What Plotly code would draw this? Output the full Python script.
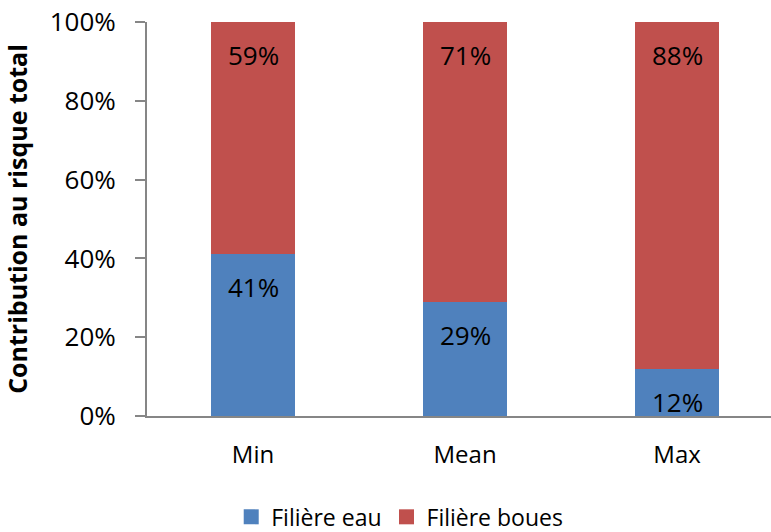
import plotly.graph_objects as go

categories = ["Min", "Mean", "Max"]
eau = [41, 29, 12]
boues = [59, 71, 88]
series_names = ["Filière eau", "Filière boues"]
y_ticks = [0, 20, 40, 60, 80, 100]
y_tick_labels = ["0%", "20%", "40%", "60%", "80%", "100%"]

BLUE = "#4F81BD"
RED = "#C0504D"
AXIS = "#868686"
FONT = "Open Sans"

fig = go.Figure()
for name, vals, color in [(series_names[0], eau, BLUE), (series_names[1], boues, RED)]:
    fig.add_trace(go.Bar(x=categories, y=vals, name=name, showlegend=False,
                         legendgroup=name, marker=dict(color=color, line=dict(width=0))))
    # larger square swatch for the legend entry
    fig.add_trace(go.Scatter(x=[None], y=[None], mode="markers", name=name,
                             legendgroup=name,
                             marker=dict(symbol="square", size=15, color=color)))

# value labels sit just inside the top of each segment
annotations = []
for i, cat in enumerate(categories):
    annotations.append(dict(x=cat, y=eau[i], text=f"{eau[i]}%", showarrow=False,
                            yanchor="middle", yshift=-33,
                            font=dict(family=FONT, size=26, color="black")))
    annotations.append(dict(x=cat, y=eau[i] + boues[i], text=f"{boues[i]}%", showarrow=False,
                            yanchor="middle", yshift=-33,
                            font=dict(family=FONT, size=26, color="black")))

fig.update_layout(
    barmode="stack",
    bargap=0.6,
    width=771, height=532,
    margin=dict(l=147, r=0, t=22, b=116, autoexpand=False),
    paper_bgcolor="white", plot_bgcolor="white",
    font=dict(family=FONT, size=24, color="black"),
    showlegend=True,
    legend=dict(orientation="h", x=0.405, xanchor="center", y=-0.256, yanchor="middle",
                font=dict(family=FONT, size=23), itemwidth=30, traceorder="normal"),
    annotations=annotations,
    xaxis=dict(range=[-0.5, 2.443], showline=True, linecolor=AXIS, linewidth=2,
               ticks="", ticklabelstandoff=16, tickfont=dict(size=24), automargin=False),
    yaxis=dict(range=[0, 100], tickvals=y_ticks, ticktext=y_tick_labels,
               showgrid=False, zeroline=False, showline=True, linecolor=AXIS, linewidth=2,
               ticks="outside", ticklen=10, tickwidth=2, tickcolor=AXIS,
               ticklabelstandoff=14, tickfont=dict(size=26), automargin=False,
               title=dict(text="<b>Contribution au risque total</b>",
                          font=dict(family=FONT, size=25), standoff=18)),
)

fig.write_html("out.html")
